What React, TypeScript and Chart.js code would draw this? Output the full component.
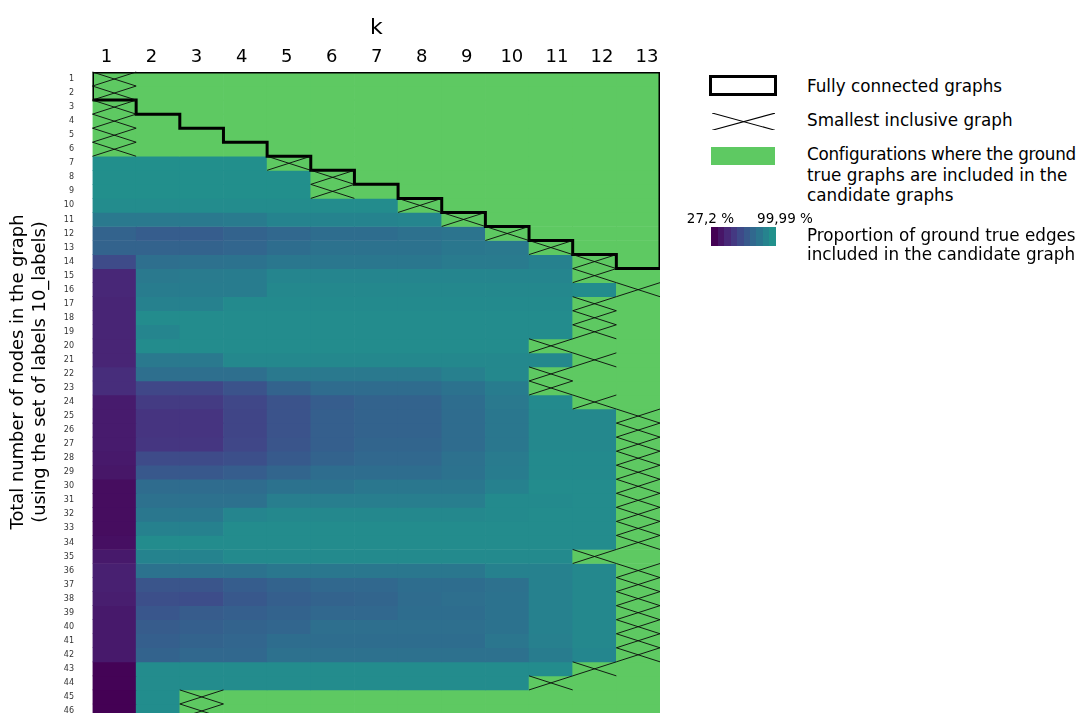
import React, { useEffect, useRef } from 'react';
import { Chart, registerables } from 'chart.js';

Chart.register(...registerables);

const FONT = "'DejaVu Sans', sans-serif";

// ---- data -------------------------------------------------------------
const K_LABELS = [1, 2, 3, 4, 5, 6, 7, 8, 9, 10, 11, 12, 13];
const NODE_LABELS = [
  1, 2, 3, 4, 5, 6, 7, 8, 9, 10, 11, 12, 13, 14, 15, 16, 17, 18, 19, 20, 21, 22, 23,
  24, 25, 26, 27, 28, 29, 30, 31, 32, 33, 34, 35, 36, 37, 38, 39, 40, 41, 42, 43, 44, 45, 46,
];

// Proportion (%) of ground true edges included, per k (one value per node count).
// 100 = the ground true graph is fully included (green).
const k1 = [100, 100, 100, 100, 100, 100, 99, 99, 99, 97, 86, 73, 73, 60, 43, 43, 42, 42, 42, 42, 42, 46, 46, 38, 38, 38, 38, 37, 36, 32, 32, 32, 32, 33, 37, 40, 40, 39, 37, 37, 37, 37, 28, 28, 27.3, 27.3];
const k2 = [100, 100, 100, 100, 100, 100, 99, 99, 99, 97, 86, 70, 73, 80, 86, 88, 91, 97, 93, 97, 86, 80, 58, 52, 49, 49, 50, 60, 67, 78, 81, 85, 91, 97, 92, 82, 65, 62, 66, 69, 71, 73, 97, 97, 98, 98];
const k3 = [100, 100, 100, 100, 100, 100, 99, 99, 99, 97, 86, 70, 73, 81, 87, 88, 91, 97, 97, 97, 86, 80, 58, 52, 49, 49, 50, 60, 67, 78, 81, 85, 91, 97, 92, 82, 65, 61, 69, 71, 73, 76, 97, 97, 100, 100];
const k4 = [100, 100, 100, 100, 100, 100, 99, 99, 99, 97, 87, 73, 75, 82, 88, 88, 96, 97, 97, 97, 95, 80, 64, 58, 57, 57, 58, 62, 70, 78, 81, 93, 97, 97, 96, 82, 70, 67, 71, 73, 75, 76, 97, 97, 100, 100];
const k5 = [100, 100, 100, 100, 100, 100, 100, 99, 99, 97, 92, 76, 79, 85, 93, 95, 96, 97, 97, 97, 95, 86, 73, 64, 64, 64, 65, 68, 74, 82, 89, 95, 97, 97, 96, 85, 73, 71, 73, 75, 79, 81, 97, 97, 100, 100];
const k6 = [100, 100, 100, 100, 100, 100, 100, 100, 100, 97, 92, 79, 82, 85, 93, 95, 96, 97, 97, 97, 95, 86, 78, 70, 71, 71, 71, 73, 79, 82, 89, 95, 97, 97, 96, 85, 76, 73, 76, 80, 79, 81, 97, 97, 100, 100];
const k7 = [100, 100, 100, 100, 100, 100, 100, 100, 100, 97, 92, 79, 82, 85, 93, 95, 96, 97, 97, 97, 95, 86, 78, 73, 73, 73, 74, 76, 79, 85, 89, 95, 97, 97, 96, 85, 76, 74, 76, 80, 79, 81, 97, 97, 100, 100];
const k8 = [100, 100, 100, 100, 100, 100, 100, 100, 100, 100, 93, 81, 82, 85, 93, 95, 96, 97, 97, 97, 95, 86, 78, 73, 73, 73, 74, 76, 79, 85, 89, 95, 97, 97, 96, 85, 79, 78, 79, 80, 79, 81, 97, 97, 100, 100];
const k9 = [100, 100, 100, 100, 100, 100, 100, 100, 100, 100, 100, 83, 85, 87, 93, 95, 96, 97, 97, 97, 95, 90, 82, 79, 78, 78, 78, 81, 82, 85, 89, 95, 97, 97, 96, 85, 79, 80, 79, 80, 79, 81, 97, 97, 100, 100];
const k10 = [100, 100, 100, 100, 100, 100, 100, 100, 100, 100, 100, 100, 86, 87, 93, 95, 96, 97, 97, 97, 95, 95, 88, 86, 85, 85, 85, 87, 88, 91, 96, 96, 97, 97, 96, 91, 81, 82, 82, 82, 84, 81, 97, 97, 100, 100];
const k11 = [100, 100, 100, 100, 100, 100, 100, 100, 100, 100, 100, 100, 100, 91, 93, 95, 96, 97, 97, 100, 95, 100, 100, 96, 95, 95, 95, 96, 96, 97, 96, 97, 97, 97, 96, 91, 91, 91, 91, 91, 90, 88, 97, 100, 100, 100];
const k12 = [100, 100, 100, 100, 100, 100, 100, 100, 100, 100, 100, 100, 100, 100, 100, 97, 100, 100, 100, 100, 100, 100, 100, 100, 95, 95, 95, 96, 96, 97, 97, 97, 97, 97, 100, 95, 95, 95, 95, 95, 95, 94, 100, 100, 100, 100];
const k13 = [100, 100, 100, 100, 100, 100, 100, 100, 100, 100, 100, 100, 100, 100, 100, 100, 100, 100, 100, 100, 100, 100, 100, 100, 100, 100, 100, 100, 100, 100, 100, 100, 100, 100, 100, 100, 100, 100, 100, 100, 100, 100, 100, 100, 100, 100];

// k of the smallest inclusive graph, one per node count
const SMALLEST_INCLUSIVE_K = [1, 1, 1, 1, 1, 1, 5, 6, 6, 8, 9, 10, 11, 12, 12, 13, 12, 12, 12, 11, 12, 11, 11, 12, 13, 13, 13, 13, 13, 13, 13, 13, 13, 13, 12, 13, 13, 13, 13, 13, 13, 13, 12, 11, 3, 3];

// first k giving a fully connected graph, for node counts 1..14
const FULLY_CONNECTED_FROM_K = [1, 1, 2, 3, 4, 5, 6, 7, 8, 9, 10, 11, 12, 13];

const COLOR_MIN = 27.2;
const COLOR_MAX = 99.99;
const LEGEND_MIN_LABEL = '27,2 %';
const LEGEND_MAX_LABEL = '99,99 %';

// ---- colours ----------------------------------------------------------
const GREEN = '#5ec962';
const VIRIDIS_LOW = ['#440154', '#471365', '#482475', '#463480', '#414487', '#3b528b', '#355f8d', '#2f6c8e', '#2a788e', '#25848e', '#21918c'];

function hexToRgb(h: string) {
  return [parseInt(h.slice(1, 3), 16), parseInt(h.slice(3, 5), 16), parseInt(h.slice(5, 7), 16)];
}
function viridisLow(f: number) {
  const c = Math.max(0, Math.min(1, f)) * (VIRIDIS_LOW.length - 1);
  const i = Math.min(Math.floor(c), VIRIDIS_LOW.length - 2);
  const t = c - i;
  const a = hexToRgb(VIRIDIS_LOW[i]);
  const b = hexToRgb(VIRIDIS_LOW[i + 1]);
  const m = a.map((v, j) => Math.round(v + (b[j] - v) * t));
  return `rgb(${m[0]},${m[1]},${m[2]})`;
}
function valueColor(v: number) {
  if (v >= 100) return GREEN;
  return viridisLow((v - COLOR_MIN) / (COLOR_MAX - COLOR_MIN));
}

const COLUMNS = [k1, k2, k3, k4, k5, k6, k7, k8, k9, k10, k11, k12, k13];

function outlinePath() {
  const lastRow = FULLY_CONNECTED_FROM_K.length;
  const right = K_LABELS[K_LABELS.length - 1] + 0.5;
  const pts: { x: number; y: number }[] = [
    { x: FULLY_CONNECTED_FROM_K[0] - 0.5, y: 0.5 },
    { x: right, y: 0.5 },
    { x: right, y: lastRow + 0.5 },
  ];
  for (let r = lastRow; r >= 1; r--) {
    const left = FULLY_CONNECTED_FROM_K[r - 1] - 0.5;
    pts.push({ x: left, y: r + 0.5 });
    pts.push({ x: left, y: r - 0.5 });
  }
  pts.push({ x: right, y: 0.5 });
  return pts;
}

const crossPlugin = {
  id: 'smallestInclusive',
  afterDatasetsDraw(chart: any) {
    const { ctx } = chart;
    const x = chart.scales.x;
    const y = chart.scales.y;
    ctx.save();
    ctx.strokeStyle = 'rgba(10,10,10,0.9)';
    ctx.lineWidth = 1;
    SMALLEST_INCLUSIVE_K.forEach((k, i) => {
      const r = NODE_LABELS[i];
      const x0 = x.getPixelForValue(k - 0.5);
      const x1 = x.getPixelForValue(k + 0.5);
      const y0 = y.getPixelForValue(r - 0.5);
      const y1 = y.getPixelForValue(r + 0.5);
      ctx.beginPath();
      ctx.moveTo(x0, y0);
      ctx.lineTo(x1, y1);
      ctx.moveTo(x0, y1);
      ctx.lineTo(x1, y0);
      ctx.stroke();
    });
    ctx.restore();
  },
};

function HeatChart() {
  const ref = useRef<HTMLCanvasElement | null>(null);
  useEffect(() => {
    if (!ref.current) return;
    Chart.defaults.font.family = FONT;
    const datasets: any[] = NODE_LABELS.map((r, ri) => ({
      type: 'bar',
      label: `n=${r}`,
      data: K_LABELS.map((k) => ({ x: k, y: [r - 0.5, r + 0.5] })),
      backgroundColor: COLUMNS.map((col) => valueColor(col[ri])),
      borderWidth: 0,
      xAxisID: 'x',
      yAxisID: 'y',
      order: 1,
    }));
    datasets.push({
      type: 'line',
      label: 'Fully connected graphs',
      data: outlinePath(),
      borderColor: '#000',
      borderWidth: 3,
      pointRadius: 0,
      fill: false,
      tension: 0,
      borderJoinStyle: 'miter',
      xAxisID: 'x',
      yAxisID: 'y',
      order: 0,
    });
    const chart = new Chart(ref.current, {
      type: 'bar',
      data: { datasets },
      plugins: [crossPlugin],
      options: {
        responsive: false,
        animation: false,
        events: [],
        devicePixelRatio: 1,
        layout: { padding: { left: 0, right: 18, top: 0, bottom: 10 } },
        datasets: { bar: { barPercentage: 1, categoryPercentage: 1, grouped: false } as any },
        plugins: { legend: { display: false }, tooltip: { enabled: false } },
        scales: {
          x: {
            type: 'linear',
            min: 0.5,
            max: 13.5,
            offset: false,
            display: false,
            afterBuildTicks: (s: any) => {
              s.ticks = K_LABELS.map((v) => ({ value: v }));
            },
          },
          xTop: {
            type: 'linear',
            position: 'top',
            min: 0.689,
            max: 13.289,
            offset: false,
            grid: { display: false, drawTicks: false },
            border: { display: false },
            afterBuildTicks: (s: any) => {
              s.ticks = K_LABELS.map((v) => ({ value: v }));
            },
            ticks: {
              font: { family: FONT, size: 18 },
              color: '#000',
              padding: 3.7,
              maxRotation: 0,
              autoSkip: false,
              callback: (v: any) => String(v),
            },
            title: {
              display: true,
              text: 'k',
              color: '#000',
              font: { family: FONT, size: 22 },
              padding: { top: 6.8, bottom: 0 },
            },
            afterFit: (s: any) => {
              s.height = 64;
              s.paddingLeft = 0;
              s.paddingRight = 0;
            },
          },
          y: {
            type: 'linear',
            reverse: true,
            min: 0.5,
            max: 46.5,
            grid: { display: false, drawTicks: false },
            border: { display: false },
            afterBuildTicks: (s: any) => {
              s.ticks = NODE_LABELS.map((v) => ({ value: v }));
            },
            ticks: {
              font: { family: FONT, size: 8 },
              color: '#333',
              padding: 18.5,
              autoSkip: false,
              callback: (v: any) => String(v),
            },
            afterFit: (s: any) => {
              s.width = 84.5;
              s.paddingTop = 0;
              s.paddingBottom = 0;
            },
          },
        } as any,
      },
    } as any);
    return () => chart.destroy();
  }, []);
  return <canvas ref={ref} width={670} height={720} style={{ position: 'absolute', left: 0, top: 0 }} />;
}

const LEGEND_FONT = 16.8;
const textStyle: React.CSSProperties = {
  position: 'absolute',
  whiteSpace: 'nowrap',
  fontFamily: FONT,
  fontSize: LEGEND_FONT,
  lineHeight: '20.4px',
  color: '#000',
};

function bandGradient() {
  const n = 10;
  const parts: string[] = [];
  for (let i = 0; i < n; i++) {
    const c = viridisLow(i / (n - 1));
    parts.push(`${c} ${(i * 100) / n}%`, `${c} ${((i + 1) * 100) / n}%`);
  }
  return `linear-gradient(to right, ${parts.join(', ')})`;
}

const yTitleStyle: React.CSSProperties = {
  position: 'absolute',
  top: 364.4 - 11,
  width: 440,
  height: 22,
  lineHeight: '22px',
  textAlign: 'center',
  fontSize: 17.9,
  whiteSpace: 'nowrap',
  transform: 'rotate(-90deg)',
  color: '#000',
};

const cbLabelStyle: React.CSSProperties = {
  position: 'absolute',
  top: 218 - 8 - 9,
  width: 80,
  height: 18,
  lineHeight: '18px',
  textAlign: 'center',
  fontSize: 13.5,
  whiteSpace: 'nowrap',
};

export default function App() {
  return (
    <div style={{ position: 'relative', width: 1070, height: 705, fontFamily: FONT }}>
      <style>{`html{overflow:hidden;}`}</style>
      <HeatChart />
      {/* y axis title */}
      <div style={{ ...yTitleStyle, left: 8.5 - 220 }}>Total number of nodes in the graph</div>
      <div style={{ ...yTitleStyle, left: 30.8 - 220 }}>(using the set of labels 10_labels)</div>

      {/* legend */}
      <div style={{ position: 'absolute', left: 701, top: 67, width: 68, height: 21, border: '3.3px solid #000', boxSizing: 'border-box' }} />
      <div style={{ ...textStyle, left: 799, top: 86 - 10.2 - 8 }}>Fully connected graphs</div>

      <svg style={{ position: 'absolute', left: 703.7, top: 104.7 }} width={63.3} height={17.3}>
        <line x1={0} y1={0} x2={63.3} y2={17.3} stroke="#000" strokeWidth={1.1} />
        <line x1={0} y1={17.3} x2={63.3} y2={0} stroke="#000" strokeWidth={1.1} />
      </svg>
      <div style={{ ...textStyle, left: 799, top: 120.5 - 10.2 - 8 }}>Smallest inclusive graph</div>

      <div style={{ position: 'absolute', left: 703, top: 139.3, width: 64, height: 17.4, background: GREEN }} />
      <div style={{ ...textStyle, left: 799, top: 154.3 - 10.2 - 8 }}>
        <span style={{ letterSpacing: '-0.26px' }}>Configurations where the ground</span>
        <br />
        true graphs are included in the
        <br />
        candidate graphs
      </div>

      <div style={{ ...cbLabelStyle, left: 702.4 - 40 }}>{LEGEND_MIN_LABEL}</div>
      <div style={{ ...cbLabelStyle, left: 777 - 40 }}>{LEGEND_MAX_LABEL}</div>
      <div style={{ position: 'absolute', left: 703, top: 218.7, width: 65, height: 19, background: bandGradient() }} />
      <div style={{ ...textStyle, left: 799, top: 236 - 10.2 - 8, lineHeight: '19.6px' }}>
        Proportion of ground true edges
        <br />
        included in the candidate graph
      </div>
    </div>
  );
}
